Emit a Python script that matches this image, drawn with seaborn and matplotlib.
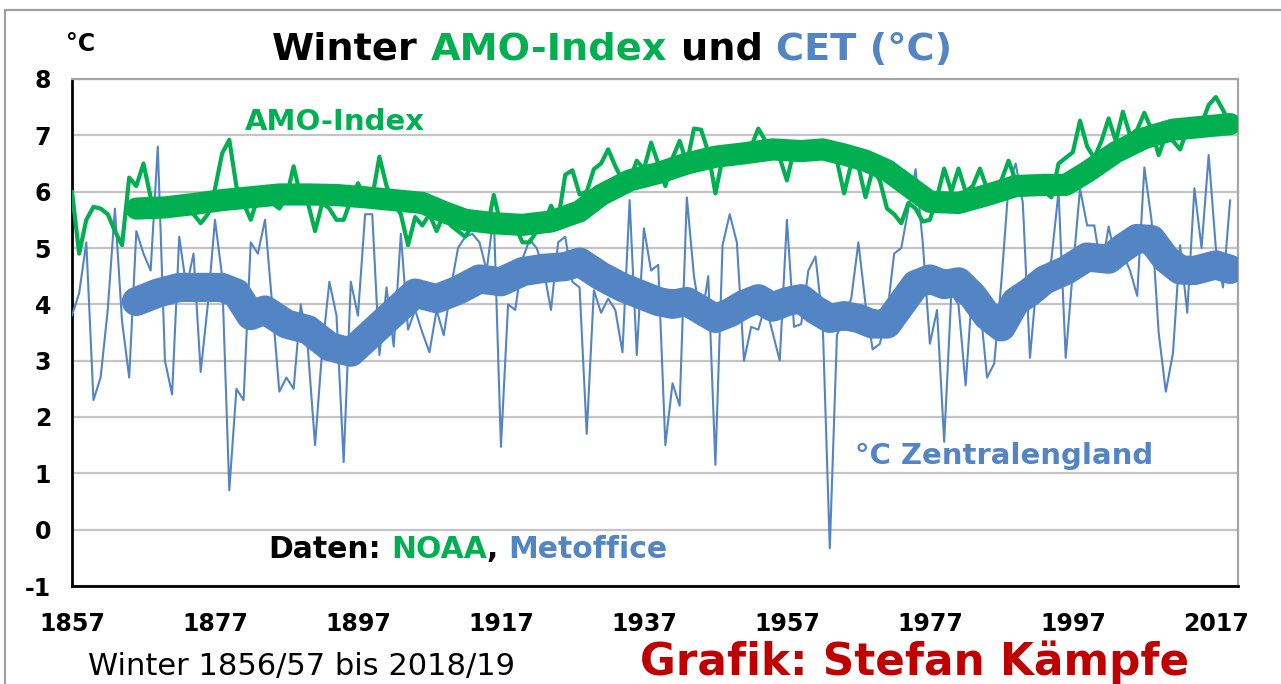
import matplotlib
matplotlib.use("Agg")
import matplotlib.pyplot as plt
import seaborn as sns
import pandas as pd
from matplotlib.patches import Rectangle

# ---------------- data ----------------
years = list(range(1857, 2020))

cet_winter = [
    3.8, 4.2, 5.1, 2.3, 2.7, 3.9, 5.7, 3.7, 2.7, 5.3, 4.9, 4.6, 6.8, 3.0, 2.4, 5.2,
    4.3, 4.9, 2.8, 4.0, 5.5, 4.5, 0.7, 2.5, 2.3, 5.1, 4.9,
    5.5, 4.0, 2.45, 2.7, 2.5, 4.0, 3.2, 1.5, 3.2, 4.4, 3.8, 1.2, 4.4, 3.8, 5.6, 5.6,
    3.1, 4.3, 3.25, 5.25, 3.55, 3.9, 3.5, 3.15, 3.9,
    3.45, 4.3, 5.0, 5.2, 5.25, 5.1, 4.6, 5.6, 1.47, 4.0, 3.9, 4.8, 5.15, 5.0, 4.6,
    3.9, 5.1, 5.2, 4.4, 4.3, 1.7, 4.25, 3.85, 4.1, 3.9, 3.15, 5.85, 3.1,
    5.35, 4.6, 4.7, 1.5, 2.6, 2.2, 5.9, 4.5, 3.7, 4.5, 1.15, 5.05, 5.6, 5.1, 3.0,
    3.6, 3.55, 4.0, 3.5, 3.0, 5.5, 3.6, 3.65, 4.6, 4.85, 3.7, -0.33,
    3.45, 3.8, 4.1, 5.1, 4.0, 3.2, 3.3, 3.8, 4.9, 5.0, 5.7, 6.4, 5.1, 3.3, 3.9,
    1.56, 4.2, 4.0, 2.56, 4.4, 4.0, 2.7, 2.95, 4.4, 6.1, 6.5, 5.8, 3.05, 4.5, 4.4,
    4.8, 6.0, 3.05, 4.6, 6.05, 5.4, 5.4, 4.6, 5.38, 4.8, 4.9, 4.6, 4.15, 6.43, 5.5,
    3.5, 2.45, 3.13, 5.05, 3.85, 6.06, 5.0, 6.65, 5.0, 4.3, 5.85,
]

amo_index = [
    6.0, 4.9, 5.5, 5.73, 5.7, 5.6, 5.3, 5.05, 6.25, 6.1, 6.5, 5.9, 5.7, 5.8, 5.75,
    5.8, 5.7, 5.6, 5.44, 5.6, 6.05, 6.68, 6.92, 6.09, 5.8, 5.5, 5.9,
    5.95, 5.8, 5.7, 5.9, 6.45, 5.9, 5.8, 5.3, 5.8, 5.7, 5.5, 5.5, 5.85, 6.15, 5.9,
    5.9, 6.62, 6.1, 5.8, 5.6, 5.05, 5.55, 5.4, 5.6, 5.3, 5.6,
    5.4, 5.3, 5.2, 5.4, 5.5, 5.3, 5.94, 5.4, 5.3, 5.4, 5.1, 5.1, 5.3, 5.4, 5.75,
    5.5, 6.3, 6.38, 5.95, 6.0, 6.4, 6.5, 6.75, 6.45, 6.2, 6.2, 6.55,
    6.4, 6.87, 6.5, 6.1, 6.6, 6.9, 6.5, 7.12, 7.1, 6.7, 5.97, 6.6, 6.7, 6.6, 6.7,
    6.8, 7.12, 6.9, 6.8, 6.6, 6.2, 6.75, 6.85, 6.8, 6.8, 6.7, 6.6,
    6.55, 5.97, 6.5, 6.45, 5.9, 6.4, 6.2, 5.7, 5.6, 5.44, 5.8, 5.7, 5.47, 5.5, 5.9,
    6.41, 6.0, 6.41, 6.0, 6.1, 6.41, 6.05, 6.1, 6.2, 6.55, 6.2, 6.1, 6.1, 6.0, 6.0,
    5.9, 6.5, 6.6, 6.7, 7.26, 6.8, 6.6, 6.9, 7.3, 6.9, 7.42, 7.0, 7.1, 7.4, 7.1,
    6.65, 7.0, 6.9, 6.75, 7.1, 7.0, 7.2, 7.54, 7.68, 7.45, 7.2,
]

amo_smooth_years = [1866, 1870, 1874, 1878, 1882, 1886, 1890, 1894, 1898, 1902,
                    1906, 1909, 1912, 1916, 1920, 1924, 1928, 1931, 1935, 1939,
                    1943, 1947, 1951, 1955, 1959, 1962, 1965, 1968, 1971, 1974,
                    1977, 1981, 1985, 1989, 1993, 1996, 1999, 2003, 2007, 2011,
                    2015, 2019]
amo_smooth = [5.7, 5.72, 5.78, 5.85, 5.9, 5.95, 5.95, 5.94, 5.9, 5.85,
              5.8, 5.64, 5.5, 5.44, 5.41, 5.47, 5.65, 5.94, 6.2, 6.33,
              6.5, 6.62, 6.68, 6.75, 6.72, 6.75, 6.66, 6.55, 6.38, 6.1,
              5.82, 5.8, 5.94, 6.1, 6.12, 6.12, 6.35, 6.7, 6.95, 7.1,
              7.15, 7.2]

cet_smooth_years = [1866, 1869, 1872, 1875, 1878, 1880, 1882, 1884, 1887, 1890,
                    1893, 1896, 1899, 1902, 1905, 1908, 1911, 1914, 1917, 1920,
                    1923, 1926, 1928, 1931, 1934, 1937, 1939, 1941, 1943, 1945,
                    1947, 1949, 1951, 1953, 1955, 1957, 1959, 1961, 1963, 1965,
                    1967, 1969, 1971, 1973, 1975, 1977, 1979, 1981, 1983, 1985,
                    1987, 1989, 1991, 1993, 1996, 1999, 2002, 2004, 2006, 2008,
                    2010, 2012, 2014, 2017, 2019]
cet_smooth = [4.05, 4.2, 4.3, 4.3, 4.3, 4.2, 3.8, 3.9, 3.65, 3.55,
              3.25, 3.15, 3.5, 3.85, 4.2, 4.1, 4.25, 4.45, 4.4, 4.58,
              4.64, 4.67, 4.75, 4.5, 4.3, 4.15, 4.05, 4.0, 4.05, 3.9,
              3.75, 3.85, 4.0, 4.1, 3.95, 4.05, 4.1, 3.9, 3.75, 3.8,
              3.75, 3.65, 3.65, 4.0, 4.35, 4.45, 4.35, 4.4, 4.15, 3.8,
              3.6, 4.05, 4.22, 4.43, 4.6, 4.84, 4.8, 5.0, 5.17, 5.15,
              4.81, 4.61, 4.6, 4.7, 4.62]

x_ticks = [1857, 1877, 1897, 1917, 1937, 1957, 1977, 1997, 2017]
y_ticks = [-1, 0, 1, 2, 3, 4, 5, 6, 7, 8]

GREEN = "#00b050"
BLUE = "#5384c4"
DARKRED = "#c00000"

# ---------------- figure ----------------
sns.set_theme(style="white")
plt.rcParams['font.family'] = ['DejaVu Sans']

W, H = 1281, 684
fig = plt.figure(figsize=(W / 100, H / 100), dpi=100)
fig.patch.set_facecolor("white")

# outer frame
fig.patches.append(Rectangle((5 / W, -0.05), 1.2, 1 - 10 / H + 0.05,
                             transform=fig.transFigure, fill=False,
                             edgecolor="#a0a0a0", linewidth=1.6, zorder=0))

ax = fig.add_axes([72 / W, 1 - 586 / H, (1238 - 72) / W, (586 - 79) / H])

df_thin = pd.DataFrame({"Jahr": years, "CET": cet_winter, "AMO": amo_index})
df_amo_s = pd.DataFrame({"Jahr": amo_smooth_years, "AMO_s": amo_smooth})
df_cet_s = pd.DataFrame({"Jahr": cet_smooth_years, "CET_s": cet_smooth})

sns.lineplot(data=df_thin, x="Jahr", y="CET", ax=ax, color=BLUE, linewidth=1.5,
             zorder=3)
sns.lineplot(data=df_cet_s, x="Jahr", y="CET_s", ax=ax, color=BLUE, linewidth=21,
             solid_joinstyle="round", solid_capstyle="round", zorder=4)
sns.lineplot(data=df_amo_s, x="Jahr", y="AMO_s", ax=ax, color=GREEN, linewidth=16,
             solid_joinstyle="round", solid_capstyle="round", zorder=5)
sns.lineplot(data=df_thin, x="Jahr", y="AMO", ax=ax, color=GREEN, linewidth=3,
             solid_joinstyle="round", zorder=6)

ax.set_xlim(1857, 2020.1)
ax.set_ylim(-1, 8)
ax.set_xticks(x_ticks)
ax.set_yticks(y_ticks)
ax.set_xticklabels([str(t) for t in x_ticks], fontsize=17, fontweight="bold")
ax.set_yticklabels([str(t) for t in y_ticks], fontsize=17, fontweight="bold")
ax.set_xlabel("")
ax.set_ylabel("")
ax.yaxis.grid(True, color="#c4c4c4", linewidth=1.6)
ax.xaxis.grid(False)
ax.set_axisbelow(True)
ax.tick_params(axis="both", direction="out", length=7, width=1.5, color="black",
               labelcolor="black")
ax.tick_params(axis="x", pad=12)
ax.tick_params(axis="y", pad=8)
for s in ["left", "bottom"]:
    ax.spines[s].set_color("black")
    ax.spines[s].set_linewidth(2)
for s in ["top", "right"]:
    ax.spines[s].set_color("#a6a6a6")
    ax.spines[s].set_linewidth(1.6)

# ---------------- texts ----------------
renderer = fig.canvas.get_renderer()


def seq_text(x0_px, yc_px, parts, size, weight="bold"):
    """Place coloured text pieces one after another starting at x0 (pixels)."""
    probe1 = fig.text(0, 0, "x x", fontsize=size, fontweight=weight)
    probe2 = fig.text(0, 0, "xx", fontsize=size, fontweight=weight)
    space = (probe1.get_window_extent(renderer).width
             - probe2.get_window_extent(renderer).width)
    probe1.remove()
    probe2.remove()
    x = x0_px
    for s, c, gap in parts:
        t = fig.text(x / W, 1 - yc_px / H, s, color=c, fontsize=size,
                     fontweight=weight, ha="left", va="center")
        x += t.get_window_extent(renderer).width + (space if gap else 0)


seq_text(272, 50, [("Winter", "black", True), ("AMO-Index", GREEN, True),
                   ("und", "black", True), ("CET (°C)", BLUE, False)], 27.5)
fig.text(66 / W, 1 - 44 / H, "°C", fontsize=17, fontweight="bold",
         ha="left", va="center", color="black")
fig.text(245 / W, 1 - 122 / H, "AMO-Index", fontsize=21, fontweight="bold",
         ha="left", va="center", color=GREEN)
seq_text(268, 549, [("Daten:", "black", True), ("NOAA", GREEN, False),
                    (",", "black", True), ("Metoffice", BLUE, False)], 21.5)
fig.text(855 / W, 1 - 456 / H, "°C Zentralengland", fontsize=21,
         fontweight="bold", ha="left", va="center", color=BLUE)
fig.text(88 / W, 1 - 666 / H, "Winter 1856/57 bis 2018/19", fontsize=22,
         fontweight="normal", ha="left", va="center", color="black")
fig.text(640 / W, 1 - 662 / H, "Grafik: Stefan Kämpfe", fontsize=31.5,
         fontweight="bold", ha="left", va="center", color=DARKRED)

fig.savefig("out.png", dpi=100, facecolor="white")
